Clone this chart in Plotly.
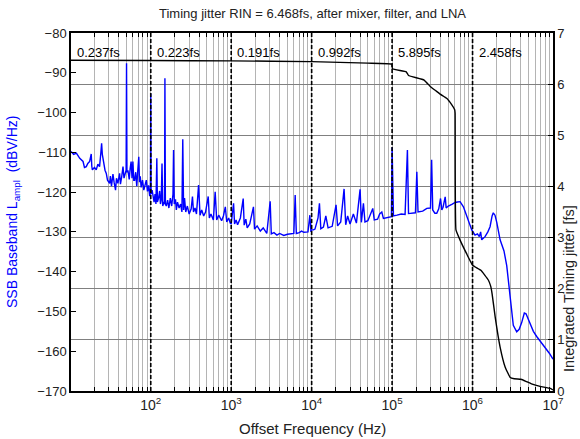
import math
import plotly.graph_objects as go

# ---------------- data ----------------
freq_ssb = [10.2, 11.0, 11.9, 12.5, 13.1, 14.4, 15.0, 15.8, 16.5, 17.4, 18.0, 18.2, 18.5, 18.8, 20.0, 21, 22, 23.1, 24.0, 24.5,
            25.0, 25.9, 27, 28, 29, 30.8, 31.5, 32.5, 33.9, 35, 36.5, 37.5, 39, 41, 42, 43.5, 45.2, 46.5, 48, 49.4,
            50, 50.6, 52, 54, 55.5, 57, 58.5, 60, 61.5, 63, 65, 67, 69, 71, 72.5, 74, 76, 79, 82, 85,
            88, 91, 94, 97, 99, 100, 101, 104, 106,
            110, 113, 116, 119, 121, 125, 129, 132, 135, 138, 141, 146, 148.5, 150, 152, 156, 162, 168, 175, 182,
            189, 192, 196, 203, 208, 215, 225, 235, 244, 250, 256, 263, 272, 285, 300, 318, 330, 340, 355, 370,
            393, 410, 430, 455, 480, 518, 535, 560, 600, 632, 660, 700, 760, 800, 845, 880, 930, 973,
            1000, 1070, 1100, 1150, 1200, 1300, 1410, 1450, 1520, 1580, 1700, 1890, 1950, 2100, 2300, 2500, 2770,
            3050, 3150, 3400, 3700, 4000, 4500, 5000, 5500, 6000, 6240, 6450, 7000, 7500, 8000, 9000, 9500, 9800,
            10000, 10500, 11000, 12000, 12500, 13000, 14000, 15000, 16000, 18000, 20100, 21000, 23000, 25300,
            26500, 28000, 30000, 33000, 36000, 40000, 41500, 44000, 46000, 50000, 54000, 57500, 60000, 66000,
            70000, 74500, 78000, 85000, 92000, 98000, 100000, 104000, 115000, 130000, 145000, 155000, 160000,
            175000, 195000, 203000, 210000, 240000, 270000, 300000, 310000, 320000, 340000, 359000, 380000,
            400000, 415000, 430000, 457000, 470000, 500000, 560000, 607000, 650000, 700000, 770000, 847000,
            977000, 1.074e6, 1.15e6, 1.214e6, 1.26e6, 1.30e6, 1.43e6, 1.55e6, 1.65e6, 1.75e6, 1.81e6, 1.9e6,
            2.0e6, 2.2e6, 2.46e6, 2.66e6, 2.9e6, 3.21e6, 3.54e6, 3.8e6, 4.08e6, 4.4e6, 4.62e6, 5.18e6, 5.7e6,
            6.27e6, 7.0e6, 7.96e6, 9.0e6, 1.0e7]
ssb_dbv = [-109.8, -110.5, -110.2, -111.0, -111.5, -112.3, -113.8, -113.6, -112.8, -112.3, -111.0, -110.4, -113.5, -114.4, -113.8, -114.4, -113.0, -113.6, -110.0, -107.7,
           -110.5, -113.0, -114.5, -115.3, -117.0, -117.8, -116.0, -118.5, -115.5, -117.5, -119.5, -116.5, -117.8, -115.3, -118.0, -116.2, -113.6, -116.5, -115.5, -114.5,
           -87.6, -115.0, -114.5, -116.8, -114.0, -112.3, -116.5, -112.3, -117.0, -117.0, -115.0, -118.5, -114.5, -111.1, -117.5, -116.0, -118.8, -117.0, -119.5, -117.8,
           -117.0, -119.8, -118.3, -121.0, -120.3, -95.2, -120.5, -119.5, -121.0,
           -122.5, -120.5, -123.0, -111.5, -122.5, -121.5, -119.7, -123.0, -122.0, -112.8, -123.5, -122.5, -123.0, -91.4, -123.0, -123.5, -122.0, -124.0, -121.5, -123.5,
           -120.5, -109.4, -123.0, -121.8, -124.5, -122.5, -124.0, -123.0, -125.0, -106.7, -124.5, -121.5, -125.0, -123.5, -125.5, -124.2, -121.1, -125.0, -124.0, -125.5,
           -118.2, -125.8, -124.5, -126.0, -125.0, -121.1, -126.5, -125.5, -127.0, -119.9, -127.0, -125.8, -127.2, -126.0, -123.7, -127.5, -126.5, -127.8,
           -128.0, -122.8, -128.0, -127.0, -128.2, -126.5, -121.6, -128.3, -126.8, -129.0, -128.0, -123.7, -129.3, -128.5, -129.8, -129.0, -130.4,
           -122.3, -130.5, -130.2, -130.8, -130.4, -130.9, -130.6, -130.5, -130.4, -120.7, -130.4, -130.2, -129.8, -130.1, -130.0, -125.8, -130.0,
           -129.5, -129.5, -129.3, -126.5, -122.8, -129.2, -128.8, -126.0, -129.0, -128.6, -123.2, -128.5, -127.5, -119.2,
           -128.2, -126.0, -128.0, -125.5, -127.8, -119.3, -127.6, -122.8, -127.5, -127.2, -125.5, -124.1, -127.0, -126.8,
           -125.5, -125.0, -126.6, -126.5, -126.3, -126.2, -108.7, -126.0, -125.8, -125.5, -125.6, -109.4, -125.4,
           -125.3, -125.2, -114.9, -125.0, -124.8, -124.1, -124.0, -111.9, -124.5, -125.3, -125.3, -124.2,
           -121.6, -124.5, -123.8, -121.2, -124.0, -123.5, -123.0, -122.6, -122.5, -122.4, -123.7, -126.2,
           -129.5, -130.8, -130.5, -131.2, -130.0, -132.0, -131.2, -130.0, -128.7, -126.0, -125.2, -125.8,
           -127.6, -132.0, -134.8, -138.5, -146.0, -153.5, -155.1, -154.5, -152.8, -150.4, -150.6, -153.0, -155.0,
           -156.3, -157.5, -158.9, -160.5, -162.0]

freq_jit = [10.2, 100, 1000, 10000, 50000, 99000, 101000, 150000, 160000, 250000, 300000, 350000, 400000,
            480000, 550000, 600000, 607000, 622000, 700000, 840000, 1.0e6, 1.27e6, 1.57e6, 1.68e6, 1.75e6,
            1.91e6, 2.2e6, 2.54e6, 2.92e6, 3.3e6, 4.0e6, 4.6e6, 5.4e6, 6.9e6, 9.3e6, 1.0e7]
jitter_fs = [6.468, 6.462, 6.455, 6.44, 6.41, 6.39, 6.30, 6.24, 6.17, 6.08, 5.95, 5.87, 5.80,
             5.72, 5.60, 5.50, 5.43, 3.15, 2.95, 2.69, 2.46, 2.36, 2.17, 2.05, 1.90,
             1.45, 0.86, 0.47, 0.27, 0.24, 0.23, 0.19, 0.14, 0.09, 0.05, 0.02]

x_min = 10.2
x_max = 1e7
decade_starts = [10, 100, 1000, 10000, 100000, 1000000]
segment_labels = ["0.237fs", "0.223fs", "0.191fs", "0.992fs", "5.895fs", "2.458fs"]
minor_mult = [2, 3, 4, 5, 6, 7, 8, 9]
label_decades = [1e2, 1e3, 1e4, 1e5, 1e6, 1e7]
label_text = ["10<sup>2</sup>", "10<sup>3</sup>", "10<sup>4</sup>", "10<sup>5</sup>", "10<sup>6</sup>", "10<sup>7</sup>"]
left_ticks = [-170, -160, -150, -140, -130, -120, -110, -100, -90, -80]
right_ticks = [0, 1, 2, 3, 4, 5, 6, 7]
jit_range = [0, 7]

title_text = "Timing jitter RIN = 6.468fs, after mixer, filter, and LNA"

# ---------------- figure ----------------
FONT = "Liberation Sans, Arial, sans-serif"
fig = go.Figure()

# dashed decade boundaries (segments of the integration)
bx, by = [], []
for d in decade_starts[1:]:
    bx += [d, d, None]
    by += [jit_range[0], jit_range[1], None]
fig.add_trace(go.Scatter(x=bx, y=by, mode="lines", yaxis="y2", showlegend=False, hoverinfo="skip",
                         line=dict(color="black", width=1.6, dash="4px,2px")))

fig.add_trace(go.Scatter(x=freq_ssb, y=ssb_dbv, mode="lines",
                         line=dict(color="#0000ff", width=1.4), yaxis="y", showlegend=False))
fig.add_trace(go.Scatter(x=freq_jit, y=jitter_fs, mode="lines",
                         line=dict(color="#000000", width=1.4, shape="spline", smoothing=0.3),
                         yaxis="y2", showlegend=False))

# x ticks: decades with labels plus minor positions (unlabelled)
xt_vals, xt_text = [], []
for d in decade_starts:
    for m in minor_mult:
        xt_vals.append(d * m)
        xt_text.append("")
for v, t in zip(label_decades, label_text):
    xt_vals.append(v)
    xt_text.append(t)

annotations = []
for d, lab in zip(decade_starts, segment_labels):
    annotations.append(dict(x=math.log10(max(d, x_min)), y=1, xref="x", yref="paper", text=lab, showarrow=False,
                            xanchor="left", yanchor="middle", xshift=4, yshift=-19,
                            font=dict(family=FONT, size=13, color="black")))
annotations.append(dict(x=0.5, y=0, xref="paper", yref="paper", text="Offset Frequency (Hz)", showarrow=False,
                        xanchor="center", yanchor="middle", yshift=-37, font=dict(family=FONT, size=15, color="#222")))
annotations.append(dict(x=0, y=0.5, xref="paper", yref="paper",
                        text="SSB Baseband L<sub>ampl</sub>  (dBV/Hz)", showarrow=False, textangle=-90,
                        xanchor="center", yanchor="middle", xshift=-58, font=dict(family=FONT, size=14, color="#0000ff")))
annotations.append(dict(x=1, y=0.285, xref="paper", yref="paper",
                        text="Integrated Timing jitter [fs]", showarrow=False, textangle=-90,
                        xanchor="center", yanchor="middle", xshift=16, font=dict(family=FONT, size=14.5, color="#222")))
annotations.append(dict(x=0.5, y=1, xref="paper", yref="paper", text=title_text, showarrow=False,
                        xanchor="center", yanchor="middle", yshift=20, font=dict(family=FONT, size=13, color="#222")))

fig.update_layout(
    width=580, height=439,
    margin=dict(l=71, r=27, t=33, b=48),
    paper_bgcolor="white", plot_bgcolor="white",
    font=dict(family=FONT, size=13, color="#222"),
    xaxis=dict(type="log", range=[math.log10(x_min), math.log10(x_max)], tickvals=xt_vals, ticktext=xt_text,
               ticks="inside", ticklen=4, tickcolor="black", showline=True, linecolor="black", linewidth=1.5,
               mirror="ticks", showgrid=True, gridcolor="#b4b4b4", gridwidth=1, zeroline=False,
               tickfont=dict(family=FONT, size=14, color="#222")),
    yaxis=dict(range=[-170, -80], tickvals=left_ticks, ticks="inside", ticklen=5, tickcolor="black",
               showline=True, linecolor="black", linewidth=1.5, showgrid=False, zeroline=False,
               tickfont=dict(family=FONT, size=13, color="#222")),
    yaxis2=dict(range=jit_range, tickvals=right_ticks, overlaying="y", side="right", ticks="inside", ticklen=5,
                tickcolor="black", showline=True, linecolor="black", linewidth=1.5, showgrid=True,
                gridcolor="#808080", gridwidth=1, zeroline=False,
                tickfont=dict(family=FONT, size=13, color="#222")),
    annotations=annotations,
)

fig.write_html("out.html")
